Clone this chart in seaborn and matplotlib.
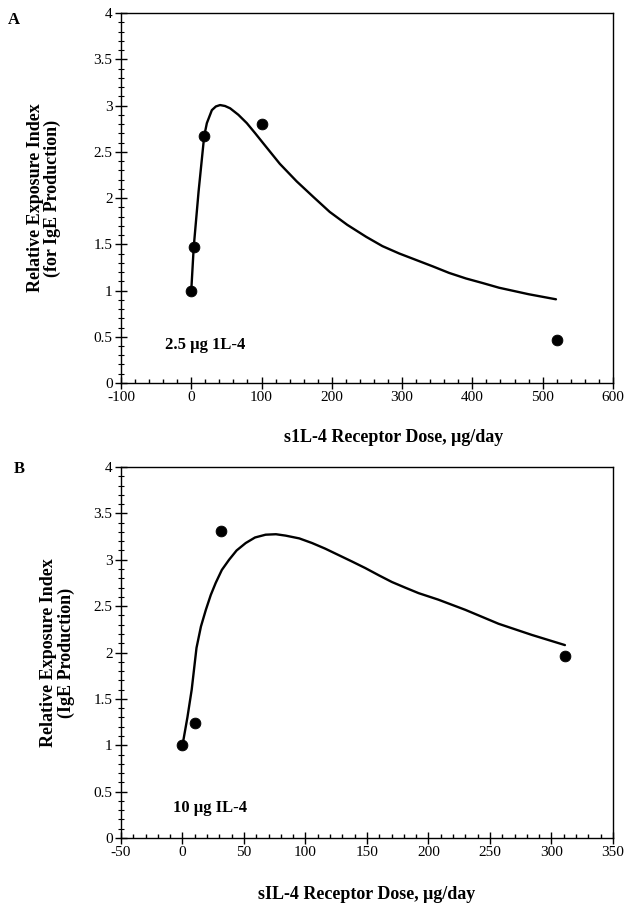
import matplotlib
matplotlib.use("Agg")
import matplotlib.pyplot as plt
from matplotlib.ticker import MultipleLocator
import pandas as pd
import seaborn as sns

# Panel A: 2.5 ug IL-4
a_dose = [0, 3.5, 18, 100, 520]
a_index = [1.0, 1.47, 2.67, 2.80, 0.47]
a_fit_dose = [0, 3.5, 10.4, 18.4, 22.2, 29.3, 35, 41, 48, 55.3, 67, 79, 91, 102.6, 126, 150, 174, 197,
              222, 249, 272, 296, 320, 344, 367, 391, 415, 438, 480, 519]
a_fit_index = [1.0, 1.47, 2.07, 2.67, 2.81, 2.95, 2.99, 3.005, 2.995, 2.97, 2.90, 2.81, 2.70, 2.59, 2.37,
               2.18, 2.01, 1.85, 1.71, 1.58, 1.48, 1.40, 1.33, 1.26, 1.19, 1.13, 1.08, 1.03, 0.96, 0.905]

# Panel B: 10 ug IL-4
b_dose = [0, 10, 31.6, 311]
b_index = [1.0, 1.24, 3.31, 1.96]
b_fit_dose = [0, 4, 7.5, 11.4, 15, 19, 23, 27, 32, 37.9, 44, 51.4, 59, 67.6, 76, 83.9, 95, 105.4, 116,
              127, 138, 148.7, 160, 170.3, 181, 192, 208, 230, 257, 284, 311]
b_fit_index = [1.0, 1.3, 1.6, 2.05, 2.28, 2.46, 2.62, 2.75, 2.89, 3.00, 3.10, 3.18, 3.24, 3.27, 3.275,
               3.26, 3.23, 3.18, 3.12, 3.05, 2.98, 2.91, 2.83, 2.76, 2.70, 2.64, 2.57, 2.46, 2.31, 2.19, 2.08]

sns.set_theme(style="ticks")
plt.rcParams['font.family'] = ['Liberation Serif', 'DejaVu Serif']
plt.rcParams['axes.unicode_minus'] = False
plt.rcParams['text.color'] = 'black'
plt.rcParams['axes.labelcolor'] = 'black'

fig = plt.figure(figsize=(6.25, 9.05), dpi=100)
ax_a = fig.add_axes([0.1936, 0.5768, 0.787, 0.4088])
ax_b = fig.add_axes([0.1936, 0.074, 0.787, 0.41])


def style_axes(ax, xlim, xmajor, xminor):
    ax.set_xlim(*xlim)
    ax.set_ylim(0, 4)
    ax.xaxis.set_major_locator(MultipleLocator(xmajor))
    ax.xaxis.set_minor_locator(MultipleLocator(xminor))
    ax.yaxis.set_major_locator(MultipleLocator(0.5))
    ax.yaxis.set_minor_locator(MultipleLocator(0.1))
    ax.yaxis.set_major_formatter(plt.FuncFormatter(lambda v, p: f"{v:g}"))
    ax.tick_params(which='major', direction='inout', length=8, width=1, colors='black',
                   labelsize=11, pad=2)
    ax.tick_params(axis='x', which='minor', direction='in', length=3, width=1, colors='black')
    ax.tick_params(axis='y', which='minor', direction='inout', length=4, width=0.8, colors='black')
    for s in ax.spines.values():
        s.set_visible(True)
        s.set_color('black')
        s.set_linewidth(1)


fit_a = pd.DataFrame({'dose': a_fit_dose, 'index': a_fit_index})
obs_a = pd.DataFrame({'dose': a_dose, 'index': a_index})
sns.lineplot(data=fit_a, x='dose', y='index', ax=ax_a, color='black', linewidth=1.7,
             sort=False, estimator=None)
sns.scatterplot(data=obs_a, x='dose', y='index', ax=ax_a, color='black', s=60,
                edgecolor='black', zorder=5)
style_axes(ax_a, (-100, 600), 100, 20)
ax_a.set_xlabel('s1L-4 Receptor Dose, \u03bcg/day', fontsize=13, fontweight='bold')
ax_a.xaxis.set_label_coords(0.555, -0.125)
ax_a.set_ylabel('Relative Exposure Index\n(for IgE Production)', fontsize=13,
                fontweight='bold', linespacing=1.0)
ax_a.yaxis.set_label_coords(-0.122, 0.5)
ax_a.text(-38, 0.41, '2.5 \u03bcg 1L-4', fontsize=12, fontweight='bold', va='center')

fit_b = pd.DataFrame({'dose': b_fit_dose, 'index': b_fit_index})
obs_b = pd.DataFrame({'dose': b_dose, 'index': b_index})
sns.lineplot(data=fit_b, x='dose', y='index', ax=ax_b, color='black', linewidth=1.7,
             sort=False, estimator=None)
sns.scatterplot(data=obs_b, x='dose', y='index', ax=ax_b, color='black', s=60,
                edgecolor='black', zorder=5)
style_axes(ax_b, (-50, 350), 50, 10)
ax_b.set_xlabel('sIL-4 Receptor Dose, \u03bcg/day', fontsize=13, fontweight='bold')
ax_b.xaxis.set_label_coords(0.5, -0.128)
ax_b.set_ylabel('Relative Exposure Index\n(IgE Production)', fontsize=13,
                fontweight='bold', linespacing=1.0)
ax_b.yaxis.set_label_coords(-0.094, 0.5)
ax_b.text(-7.5, 0.32, '10 \u03bcg IL-4', fontsize=12, fontweight='bold', va='center')

fig.text(0.013, 0.978, 'A', fontsize=12, fontweight='bold', va='center')
fig.text(0.022, 0.482, 'B', fontsize=12, fontweight='bold', va='center')

fig.savefig('out.png', dpi=100, facecolor='white')
